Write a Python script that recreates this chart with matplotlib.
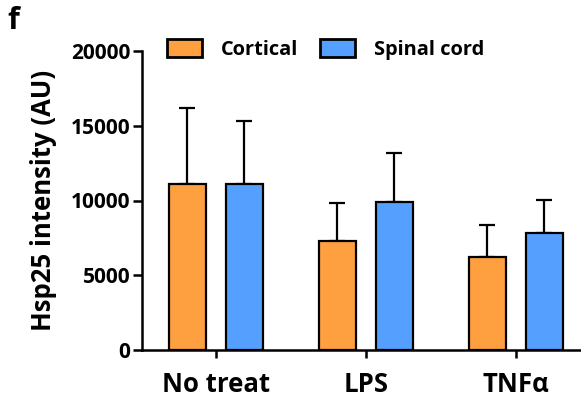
import matplotlib
matplotlib.use("Agg")
import matplotlib.pyplot as plt
import numpy as np

plt.rcParams['font.family'] = ['Open Sans', 'DejaVu Sans']
plt.rcParams['font.weight'] = 'bold'

categories = ["No treat", "LPS", "TNFα"]
series_names = ["Cortical", "Spinal cord"]
cortical_mean = [11100, 7300, 6200]
cortical_err = [5070, 2510, 2170]
spinal_mean = [11100, 9900, 7800]
spinal_err = [4220, 3270, 2230]
y_ticks = [0, 5000, 10000, 15000, 20000]

colors = ["#FFA040", "#55A0FF"]

fig = plt.figure(figsize=(5.81, 4.01), dpi=100)
ax = fig.add_axes([0.2444, 0.1272, 0.754, 0.7456])

x = np.arange(len(categories))
width = 0.247
offset = 0.19
lw = 1.6

for xs, means, errs, col, name in [
    (x - offset, cortical_mean, cortical_err, colors[0], series_names[0]),
    (x + offset, spinal_mean, spinal_err, colors[1], series_names[1]),
]:
    ax.bar(xs, means, width, color=col, edgecolor="black", linewidth=lw,
           label=name, zorder=2)
    ax.errorbar(xs, means, yerr=[np.zeros(len(errs)), errs], fmt="none",
                ecolor="black", elinewidth=lw, capsize=5.5, capthick=lw, zorder=1)

ax.set_ylim(0, 20000)
ax.set_xlim(-0.491, 2.429)
ax.set_yticks(y_ticks)
ax.set_yticklabels([str(v) for v in y_ticks], fontsize=15, fontweight='bold')
ax.set_xticks(x)
ax.set_xticklabels(categories, fontsize=18.5, fontweight='bold')
ax.tick_params(axis='y', length=6.5, width=1.8, pad=2)
ax.tick_params(axis='x', length=6, width=1.8, pad=9)

for side in ["top", "right"]:
    ax.spines[side].set_visible(False)
for side in ["left", "bottom"]:
    ax.spines[side].set_linewidth(1.8)

ax.set_ylabel("Hsp25 intensity (AU)", fontsize=18.5, fontweight='bold', labelpad=10)

leg = ax.legend(loc="upper left", bbox_to_anchor=(0.015, 1.1), ncol=2,
                frameon=False, fontsize=14.4, handlelength=1.75, handleheight=1.0,
                columnspacing=1.1, handletextpad=0.95)
for t in leg.get_texts():
    t.set_fontweight('bold')
for h in leg.legend_handles:
    h.set_linewidth(2.0)

fig.text(0.012, 0.985, "f", fontsize=22, fontweight='bold', va='top', ha='left')

fig.savefig("out.png", dpi=100)
